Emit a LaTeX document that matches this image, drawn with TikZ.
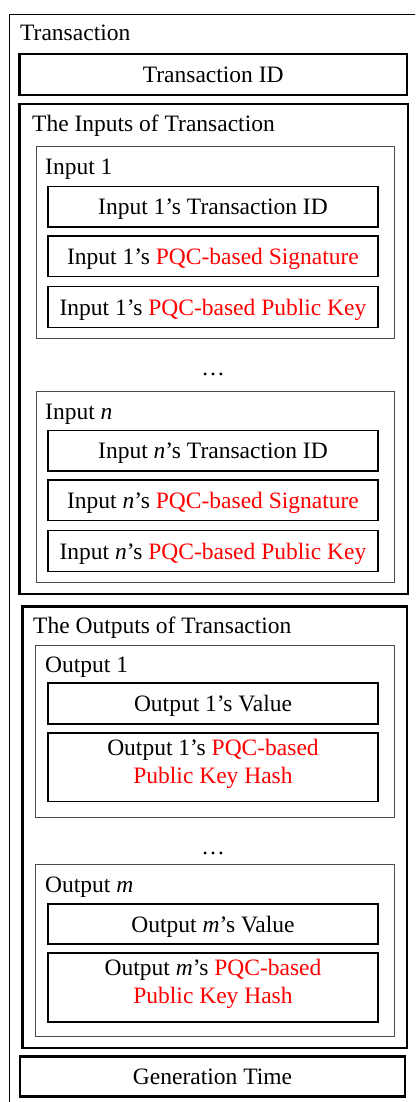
\documentclass[tikz,border=0pt]{standalone}
\usepackage{fontspec}
\setmainfont{Liberation Serif}
\usepackage{xcolor}
\usetikzlibrary{positioning}

\begin{document}
\begin{tikzpicture}[x=1pt,y=-1pt,every node/.style={font=\fontsize{23.5}{27.6}\selectfont},mainbox/.style={draw,line width=2.8pt},groupbox/.style={draw=black!70,line width=1pt},fieldbox/.style={draw,line width=1.4pt,inner sep=0pt,align=center,minimum width=330pt,minimum height=40.5pt,text height=16.5pt,text depth=0pt},hashbox/.style={fieldbox,text height=32pt},caption/.style={anchor=base west,inner sep=0pt},dotsnode/.style={anchor=base,inner sep=0pt}]
    \useasboundingbox (0,0) rectangle (415,1102);
    \clip (0,0) rectangle (415,1102);
    % frame of the transaction, cut off at the page edge
    \draw[line width=0.9pt] (9,14) rectangle (430,1120);
    \node[caption] (tx) at (20,41) {Transaction};
    \node[fieldbox,line width=2.8pt,minimum width=387.5pt,minimum height=41pt] (txid) at (213.25,74.5) {Transaction ID};
    % inputs
    \draw[mainbox] (19.5,104) rectangle (408,594);
    \node[caption] (inputs) at (32,132) {The Inputs of Transaction};
    \draw[groupbox] (36,147) rectangle (394,338);
    \node[caption] (in1) at (45,175) {Input 1};
    \node[fieldbox] (in1id) at (213,206.7) {Input 1's Transaction ID};
    \node[fieldbox] (in1sig) at (213,256.3) {Input 1's \textcolor{red}{PQC-based Signature}};
    \node[fieldbox] (in1pk) at (213,307) {Input 1's \textcolor{red}{PQC-based Public Key}};
    \node[dotsnode] (indots) at (213,375) {\dots};
    \draw[groupbox] (36,391) rectangle (394,582);
    \node[caption] (inn) at (45,419) {Input \textit{n}};
    \node[fieldbox] (innid) at (213,450.7) {Input \textit{n}'s Transaction ID};
    \node[fieldbox] (innsig) at (213,500.3) {Input \textit{n}'s \textcolor{red}{PQC-based Signature}};
    \node[fieldbox] (innpk) at (213,551) {Input \textit{n}'s \textcolor{red}{PQC-based Public Key}};
    % outputs
    \draw[mainbox] (22.7,606.7) rectangle (407,1048);
    \node[caption] (outputs) at (33,633) {The Outputs of Transaction};
    \draw[groupbox] (35.7,645) rectangle (394,817);
    \node[caption] (out1) at (45,672) {Output 1};
    \node[fieldbox,minimum height=41pt] (out1val) at (213,703.5) {Output 1's Value};
    \node[hashbox,minimum height=68.7pt] (out1hash) at (213,767.3) {Output 1's \textcolor{red}{PQC-based}\\\textcolor{red}{Public Key Hash}};
    \node[dotsnode] (outdots) at (213,854) {\dots};
    \draw[groupbox] (35.7,864) rectangle (394,1036.7);
    \node[caption] (outm) at (45,892) {Output \textit{m}};
    \node[fieldbox,minimum height=40pt] (outmval) at (213,924) {Output \textit{m}'s Value};
    \node[hashbox,minimum height=69pt] (outmhash) at (213,987.5) {Output \textit{m}'s \textcolor{red}{PQC-based}\\\textcolor{red}{Public Key Hash}};
    \node[fieldbox,line width=2.8pt,minimum width=385pt,minimum height=40pt] (gentime) at (212.5,1076.7) {Generation Time};
\end{tikzpicture}
\end{document}
